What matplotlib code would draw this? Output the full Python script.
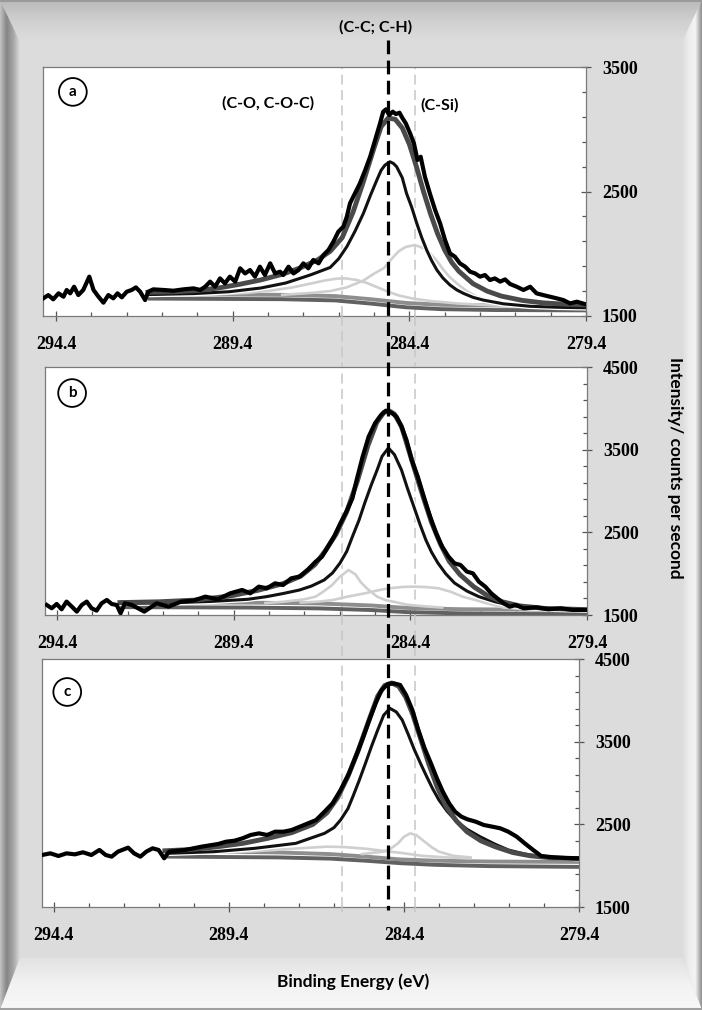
import numpy as np
import matplotlib.pyplot as plt
import matplotlib.patheffects as pe
from matplotlib.patches import Polygon
from matplotlib.lines import Line2D
from matplotlib.colors import LinearSegmentedColormap
from matplotlib.ticker import FixedLocator
from matplotlib.transforms import blended_transform_factory

# C1s spectra, (binding energy / eV, intensity / cps)
# ---- sample a ----
a_raw = [(294.76, 1642), (294.62, 1668), (294.48, 1634), (294.33, 1682), (294.19, 1655),
         (294.10, 1709), (294.00, 1682), (293.89, 1735), (293.77, 1668), (293.63, 1709),
         (293.46, 1816), (293.34, 1709), (293.20, 1655), (293.06, 1607), (292.92, 1668),
         (292.78, 1642), (292.66, 1682), (292.54, 1650), (292.40, 1695), (292.26, 1709),
         (292.14, 1730), (292.02, 1695), (291.88, 1628), (291.79, 1695), (291.65, 1714),
         (291.36, 1709), (291.08, 1703), (290.80, 1714), (290.51, 1722), (290.32, 1709),
         (290.18, 1735), (290.04, 1776), (289.90, 1735), (289.76, 1802), (289.62, 1762),
         (289.48, 1816), (289.33, 1776), (289.19, 1883), (289.05, 1842), (288.91, 1869),
         (288.77, 1816), (288.63, 1896), (288.49, 1829), (288.34, 1923), (288.20, 1842),
         (288.06, 1856), (287.97, 1829), (287.82, 1896), (287.68, 1842), (287.54, 1869),
         (287.40, 1923), (287.26, 1883), (287.12, 1950), (286.97, 1923), (286.83, 1990),
         (286.69, 2030), (286.55, 2097), (286.41, 2177), (286.27, 2217), (286.17, 2297),
         (286.08, 2405), (285.94, 2485), (285.80, 2565), (285.65, 2672), (285.51, 2779),
         (285.37, 2913), (285.23, 3047), (285.14, 3141), (285.06, 3160), (284.97, 3114),
         (284.87, 3141), (284.78, 3122), (284.68, 3133), (284.59, 3087), (284.50, 3047),
         (284.38, 2967), (284.27, 2886), (284.17, 2753), (284.08, 2779), (283.96, 2619),
         (283.82, 2485), (283.67, 2351), (283.53, 2244), (283.39, 2110), (283.25, 2003),
         (283.11, 1976), (282.97, 1923), (282.82, 1896), (282.68, 1856), (282.54, 1842),
         (282.40, 1816), (282.26, 1829), (282.12, 1789), (281.98, 1802), (281.83, 1776),
         (281.69, 1794), (281.55, 1757), (281.36, 1735), (281.17, 1709), (280.98, 1735),
         (280.80, 1682), (280.61, 1668), (280.42, 1655), (280.23, 1642), (280.04, 1628),
         (279.85, 1601), (279.66, 1615), (279.43, 1596)]
a_env = [(291.8, 1690), (291.0, 1695), (290.4, 1705), (289.8, 1725), (289.2, 1755),
         (288.6, 1790), (288.0, 1835), (287.5, 1885), (287.0, 1950), (286.64, 2020),
         (286.3, 2130), (286.0, 2330), (285.7, 2580), (285.4, 2850), (285.2, 3020),
         (285.0, 3090), (284.8, 3080), (284.6, 3010), (284.4, 2880), (284.2, 2700),
         (284.0, 2500), (283.8, 2320), (283.6, 2160), (283.4, 2030), (283.2, 1930),
         (283.0, 1860), (282.6, 1760), (282.2, 1700), (281.8, 1660), (281.2, 1625),
         (280.6, 1605), (280.0, 1595), (279.4, 1590)]
a_cc = [(291.8, 1672), (290.5, 1680), (289.5, 1695), (288.6, 1725), (287.9, 1765),
        (287.2, 1830), (286.64, 1890), (286.4, 1960), (286.17, 2057), (285.94, 2180),
        (285.70, 2325), (285.5, 2470), (285.32, 2592), (285.2, 2670), (285.09, 2712),
        (284.95, 2739), (284.85, 2725), (284.76, 2699), (284.6, 2610), (284.48, 2485),
        (284.33, 2370), (284.19, 2244), (284.05, 2130), (283.91, 2030), (283.77, 1945),
        (283.62, 1869), (283.45, 1805), (283.25, 1749), (283.06, 1710), (282.87, 1682),
        (282.6, 1650), (282.31, 1628), (281.74, 1598), (280.98, 1578), (280.2, 1570),
        (279.4, 1566)]
a_co = [(291.8, 1665), (290.0, 1672), (289.0, 1685), (288.3, 1705), (287.7, 1730),
        (287.2, 1760), (286.8, 1785), (286.45, 1800), (286.2, 1802), (285.9, 1790),
        (285.6, 1765), (285.3, 1730), (285.0, 1695), (284.7, 1665), (284.3, 1640),
        (283.8, 1620), (283.0, 1600), (282.0, 1585), (281.0, 1575)]
a_csi = [(288.0, 1670), (287.2, 1685), (286.64, 1700), (286.17, 1730), (285.70, 1785),
         (285.4, 1840), (285.12, 1885), (284.9, 1960), (284.7, 2020), (284.5, 2055),
         (284.24, 2070), (284.0, 2045), (283.81, 2003), (283.6, 1935), (283.43, 1869),
         (283.25, 1810), (283.06, 1763), (282.8, 1705), (282.5, 1655), (282.1, 1615),
         (281.74, 1590), (281.0, 1572), (280.2, 1566), (279.4, 1563)]
a_bg_hi = [(291.8, 1675), (288.0, 1670), (286.5, 1660), (285.5, 1635), (284.5, 1605),
           (283.5, 1590), (282.0, 1585), (279.4, 1580)]
a_bg_lo = [(291.8, 1640), (288.0, 1635), (286.5, 1625), (285.5, 1600), (284.5, 1570),
           (283.5, 1555), (282.0, 1548), (279.4, 1545)]

# ---- sample b ----
b_raw = [(294.69, 1621), (294.55, 1581), (294.41, 1633), (294.27, 1569), (294.13, 1662),
         (293.98, 1601), (293.84, 1541), (293.70, 1621), (293.56, 1662), (293.42, 1581),
         (293.28, 1553), (293.14, 1641), (292.99, 1682), (292.85, 1633), (292.71, 1621),
         (292.60, 1521), (292.48, 1641), (292.28, 1621), (291.93, 1541), (291.58, 1641),
         (291.24, 1601), (290.89, 1662), (290.54, 1674), (290.20, 1722), (289.85, 1690),
         (289.50, 1762), (289.16, 1803), (288.93, 1762), (288.69, 1843), (288.46, 1823),
         (288.23, 1883), (288.00, 1863), (287.77, 1944), (287.54, 1964), (287.31, 2045),
         (287.08, 2145), (286.90, 2206), (286.73, 2327), (286.56, 2448), (286.38, 2609),
         (286.21, 2750), (286.04, 2911), (285.92, 3133), (285.75, 3415), (285.58, 3657),
         (285.40, 3819), (285.23, 3919), (285.09, 3972), (284.94, 3948), (284.79, 3899),
         (284.65, 3778), (284.51, 3617), (284.36, 3375), (284.19, 3174), (284.02, 2932),
         (283.84, 2690), (283.67, 2488), (283.50, 2327), (283.32, 2206), (283.15, 2125),
         (282.98, 2105), (282.80, 2025), (282.63, 2004), (282.46, 1903), (282.28, 1843),
         (282.11, 1762), (281.94, 1702), (281.76, 1641), (281.59, 1601), (281.42, 1621),
         (281.19, 1581), (280.84, 1593), (280.49, 1569), (280.15, 1581), (279.80, 1561),
         (279.39, 1561)]
b_env = [(292.62, 1650), (291.5, 1660), (290.5, 1680), (289.5, 1730), (288.7, 1800),
         (288.0, 1880), (287.5, 1970), (287.1, 2110), (286.8, 2280), (286.5, 2480),
         (286.2, 2750), (285.9, 3120), (285.6, 3550), (285.35, 3830), (285.15, 3950),
         (285.0, 3970), (284.85, 3930), (284.65, 3780), (284.45, 3500), (284.2, 3150),
         (284.0, 2880), (283.8, 2620), (283.55, 2360), (283.3, 2150), (283.0, 1990),
         (282.6, 1840), (282.2, 1730), (281.8, 1660), (281.3, 1610), (280.6, 1580),
         (279.4, 1565)]
b_cc = [(292.62, 1640), (291.0, 1650), (290.0, 1665), (289.0, 1690), (288.47, 1722),
        (288.0, 1760), (287.54, 1802), (287.2, 1850), (286.84, 1923), (286.6, 2010),
        (286.39, 2129), (286.2, 2270), (286.04, 2447), (285.85, 2650), (285.69, 2855),
        (285.5, 3080), (285.34, 3254), (285.2, 3420), (285.02, 3520), (284.85, 3440),
        (284.65, 3254), (284.48, 3030), (284.30, 2810), (284.13, 2600), (283.96, 2407),
        (283.8, 2260), (283.62, 2129), (283.4, 2000), (283.15, 1887), (282.8, 1790),
        (282.46, 1722), (282.0, 1660), (281.6, 1620), (281.0, 1590), (280.3, 1570),
        (279.4, 1560)]
b_co = [(288.5, 1645), (288.0, 1660), (287.4, 1690), (287.08, 1722), (286.84, 1790),
        (286.62, 1860), (286.4, 1960), (286.15, 2044), (285.95, 1990), (285.81, 1900),
        (285.6, 1810), (285.34, 1722), (285.1, 1680), (284.88, 1661), (284.5, 1625),
        (284.0, 1605), (283.5, 1590)]
b_csi = [(287.5, 1650), (287.0, 1662), (286.6, 1680), (286.2, 1720), (285.69, 1762),
         (285.3, 1800), (285.0, 1823), (284.6, 1840), (284.3, 1843), (283.95, 1838),
         (283.6, 1823), (283.25, 1780), (282.92, 1722), (282.55, 1680), (282.23, 1641),
         (281.76, 1590), (281.2, 1570), (280.6, 1560)]
b_bg_hi = [(292.62, 1655), (289.0, 1650), (287.0, 1640), (285.5, 1615), (284.5, 1585),
           (283.0, 1570), (281.0, 1565), (279.4, 1562)]
b_bg_lo = [(292.62, 1595), (289.0, 1590), (287.0, 1580), (285.5, 1560), (284.5, 1535),
           (283.0, 1520), (281.0, 1512), (279.4, 1510)]

# ---- sample c ----
c_raw = [(294.74, 2129), (294.50, 2149), (294.27, 2117), (294.04, 2149), (293.80, 2137),
         (293.57, 2162), (293.33, 2129), (293.10, 2190), (292.92, 2129), (292.75, 2109),
         (292.57, 2170), (292.28, 2218), (292.11, 2149), (291.93, 2109), (291.76, 2170),
         (291.58, 2210), (291.41, 2190), (291.25, 2089), (291.11, 2170), (290.65, 2190),
         (290.18, 2230), (289.71, 2262), (289.48, 2290), (289.24, 2302), (289.01, 2331),
         (288.78, 2371), (288.54, 2391), (288.31, 2371), (288.08, 2411), (287.84, 2411),
         (287.61, 2431), (287.37, 2472), (287.14, 2512), (286.91, 2552), (286.67, 2653),
         (286.44, 2754), (286.21, 2915), (285.97, 3117), (285.74, 3359), (285.56, 3561),
         (285.39, 3762), (285.21, 3964), (285.04, 4125), (284.86, 4198), (284.69, 4206),
         (284.51, 4186), (284.34, 4065), (284.16, 3883), (283.99, 3641), (283.81, 3419),
         (283.63, 3238), (283.46, 3057), (283.29, 2895), (283.11, 2754), (282.94, 2653),
         (282.76, 2593), (282.59, 2561), (282.35, 2532), (282.12, 2492), (281.88, 2472),
         (281.65, 2452), (281.42, 2411), (281.18, 2351), (280.95, 2270), (280.71, 2190),
         (280.48, 2117), (280.13, 2101), (279.78, 2093), (279.37, 2089)]
c_env = [(291.23, 2180), (290.5, 2195), (289.8, 2225), (289.0, 2270), (288.3, 2330),
         (287.6, 2400), (287.0, 2500), (286.6, 2640), (286.3, 2820), (286.0, 3080),
         (285.7, 3400), (285.4, 3760), (285.15, 4050), (284.95, 4180), (284.75, 4210),
         (284.55, 4170), (284.35, 4040), (284.15, 3830), (283.95, 3570), (283.7, 3240),
         (283.45, 2950), (283.2, 2720), (282.9, 2540), (282.6, 2410), (282.2, 2300),
         (281.8, 2230), (281.3, 2160), (280.8, 2120), (280.2, 2095), (279.4, 2085)]
c_cc = [(291.11, 2150), (289.83, 2169), (288.66, 2210), (287.49, 2270), (286.67, 2391),
        (286.4, 2460), (286.21, 2553), (286.0, 2690), (285.86, 2835), (285.68, 3030),
        (285.5, 3238), (285.33, 3440), (285.15, 3641), (284.98, 3820), (284.80, 3903),
        (284.62, 3860), (284.45, 3762), (284.28, 3590), (284.1, 3399), (283.92, 3230),
        (283.75, 3077), (283.58, 2930), (283.4, 2794), (283.17, 2660), (282.94, 2553),
        (282.6, 2440), (282.23, 2351), (281.8, 2260), (281.42, 2190), (280.95, 2140),
        (280.48, 2109), (279.37, 2085)]
c_co = [(290.5, 2150), (289.24, 2160), (288.08, 2190), (287.2, 2215), (286.6, 2230),
        (286.1, 2225), (285.5, 2205), (285.0, 2180), (284.4, 2150), (283.9, 2120),
        (283.2, 2100), (282.5, 2090)]
c_csi = [(285.6, 2140), (285.0, 2170), (284.8, 2200), (284.57, 2270), (284.4, 2350),
         (284.22, 2391), (284.05, 2370), (283.87, 2310), (283.6, 2220), (283.4, 2169),
         (283.0, 2120), (282.5, 2100)]
c_bg_hi = [(291.23, 2175), (288.0, 2160), (286.5, 2140), (285.5, 2110), (284.5, 2075),
           (283.5, 2060), (282.0, 2050), (279.4, 2045)]
c_bg_lo = [(291.23, 2110), (288.0, 2100), (286.5, 2085), (285.5, 2060), (284.5, 2030),
           (283.5, 2010), (282.0, 1995), (279.4, 1985)]

# peak positions marked across all panels
e_co, e_cc, e_csi = 286.3, 285.0, 284.24
x_major = [294.4, 289.4, 284.4, 279.4]
x_minor = [293.4, 292.4, 291.4, 290.4, 288.4, 287.4, 286.4, 285.4,
           283.4, 282.4, 281.4, 280.4]
y_major = [1500, 2500, 3500, 4500]

W, H = 702, 1010
fig = plt.figure(figsize=(W / 100, H / 100), dpi=100)

# ---------- bevelled grey frame ----------
frame = fig.add_axes([0, 0, 1, 1], zorder=-10)
frame.axis("off")
frame.add_patch(Polygon([(0, 0), (W, 0), (W, H), (0, H)], fc="#dcdcdc", ec="none",
                        zorder=-5))


def shade(poly, colors, horizontal):
    g = np.linspace(0, 1, 256)
    img = g[None, :] if horizontal else g[:, None]
    cmap = LinearSegmentedColormap.from_list("edge", colors)
    xs = [p[0] for p in poly]
    ys = [p[1] for p in poly]
    im = frame.imshow(img, cmap=cmap, extent=(min(xs), max(xs), max(ys), min(ys)),
                      aspect="auto", interpolation="bilinear", zorder=0)
    clip = Polygon(poly, closed=True, fc="none", ec="none", transform=frame.transData)
    frame.add_patch(clip)
    im.set_clip_path(clip)


shade([(0, 0), (W, 0), (W - 20, 42), (20, 42)], ["#bababa", "#d0d0d0", "#dddddd"], False)
shade([(0, 0), (20, 42), (20, 958), (0, H)], ["#c4c4c4", "#868686", "#a6a6a6", "#dcdcdc"], True)
shade([(W, 0), (W - 20, 42), (W - 20, 958), (W, H)], ["#dcdcdc", "#ececec", "#f4f4f4", "#8c8c8c"], True)
shade([(20, 958), (W - 20, 958), (W, H), (0, H)], ["#e2e2e2", "#f2f2f2", "#f8f8f8"], False)
frame.plot([0, W], [H - 1.5, H - 1.5], color="#a0a0a0", lw=1.5)
frame.plot([0, W], [1, 1], color="#9a9a9a", lw=1.5)
frame.set_xlim(0, W)
frame.set_ylim(H, 0)


def px_axes(l, t, r, b):
    return fig.add_axes([l / W, 1 - b / H, (r - l) / W, (b - t) / H])


ax_a = px_axes(43, 67, 586, 316)
ax_b = px_axes(45, 367, 587, 615)
ax_c = px_axes(42, 659, 579, 907)

tick_font = dict(family="Liberation Serif", weight="bold", size=13)
sans = ["Lato", "DejaVu Sans"]


def xy(pairs):
    arr = np.array(pairs)
    return arr[:, 0], arr[:, 1]


def panel(ax, raw, env, cc, co, csi, bg_hi, bg_lo, xlim, ylim, letter, lpos):
    ax.set_facecolor("white")
    ax.plot(*xy(bg_hi), color="#8e8e8e", lw=2.8, zorder=2, solid_capstyle="butt")
    ax.plot(*xy(bg_lo), color="#616161", lw=2.8, zorder=2, solid_capstyle="butt")
    ax.plot(*xy(co), color="#cfcfcf", lw=1.9, zorder=3)
    ax.plot(*xy(csi), color="#cfcfcf", lw=1.9, zorder=3)
    ax.plot(*xy(cc), color="#111111", lw=2.2, zorder=4,
            path_effects=[pe.Stroke(linewidth=4.0, foreground="white"), pe.Normal()])
    ax.plot(*xy(env), color="#4a4a4a", lw=3.5, zorder=5)
    ax.plot(*xy(raw), color="black", lw=3.0, zorder=6, solid_joinstyle="round")

    ax.set_xlim(*xlim)
    ax.set_ylim(*ylim)
    for s in ax.spines.values():
        s.set_color("#7a7a7a")
        s.set_linewidth(0.9)

    ax.xaxis.set_major_locator(FixedLocator(x_major))
    ax.xaxis.set_minor_locator(FixedLocator(x_minor))
    ax.yaxis.set_major_locator(FixedLocator([v for v in y_major if v <= ylim[1]]))
    ax.yaxis.set_minor_locator(FixedLocator(np.arange(ylim[0], ylim[1], 200)))
    ax.yaxis.tick_right()
    ax.tick_params(axis="x", which="major", direction="inout", length=7, width=0.9,
                   color="#555555", pad=11)
    ax.tick_params(axis="y", which="major", direction="inout", length=7, width=0.9,
                   color="#555555", pad=8)
    ax.tick_params(which="minor", direction="in", length=3, width=0.9, color="#555555")
    for lab in ax.get_xticklabels() + ax.get_yticklabels():
        lab.set(**tick_font)

    ax.text(lpos[0], lpos[1], letter, transform=ax.transAxes, ha="center", va="center",
            family=sans, weight="bold", fontsize=11,
            bbox=dict(boxstyle="circle,pad=0.45", fc="white", ec="black", lw=1.3))

    # light dashed markers inside the panel
    tr = blended_transform_factory(ax_a.transData, ax.transAxes)
    for e in (e_co, e_csi):
        ax.plot([e, e], [0, 1], transform=tr, color="#c6c6c6", lw=1.1,
                dashes=(6.5, 3.6), zorder=1)


panel(ax_a, a_raw, a_env, a_cc, a_co, a_csi, a_bg_hi, a_bg_lo,
      (294.77, 279.4), (1500, 3500), "a", (0.055, 0.90))
panel(ax_b, b_raw, b_env, b_cc, b_co, b_csi, b_bg_hi, b_bg_lo,
      (294.74, 279.4), (1500, 4500), "b", (0.050, 0.895))
panel(ax_c, c_raw, c_env, c_cc, c_co, c_csi, c_bg_hi, c_bg_lo,
      (294.74, 279.4), (1500, 4500), "c", (0.047, 0.867))

# dashed markers across the gaps between panels, and the C-C line on top of everything
fig_tr = blended_transform_factory(ax_a.transData, fig.transFigure)
for e in (e_co, e_csi):
    for t, b in ((316, 367), (615, 659), (907, 912)):
        fig.add_artist(Line2D([e, e], [1 - t / H, 1 - b / H], transform=fig_tr,
                              color="#c6c6c6", lw=1.1, dashes=(6.5, 3.6), zorder=1))
fig.add_artist(Line2D([e_cc, e_cc], [1 - 40 / H, 1 - 910 / H], transform=fig_tr,
                      color="black", lw=2.3, dashes=(4.3, 2.0), zorder=20))

fig.text(376 / W, 1 - 27 / H, "(C-C; C-H)", ha="center", va="center",
         family=sans, weight="bold", fontsize=11.5)
fig.text(268 / W, 1 - 103 / H, "(C-O, C-O-C)", ha="center", va="center",
         family=sans, weight="bold", fontsize=11.5, zorder=30)
fig.text(440 / W, 1 - 105 / H, "(C-Si)", ha="center", va="center",
         family=sans, weight="bold", fontsize=11.5, zorder=30)
fig.text(353 / W, 1 - 982 / H, "Binding Energy (eV)", ha="center", va="center",
         family=sans, weight="bold", fontsize=12.5)
fig.text(675 / W, 1 - 468 / H, "Intensity/ counts per second", ha="center", va="center",
         rotation=270, family=sans, weight="bold", fontsize=12.5)

fig.savefig("out.png", dpi=100)
